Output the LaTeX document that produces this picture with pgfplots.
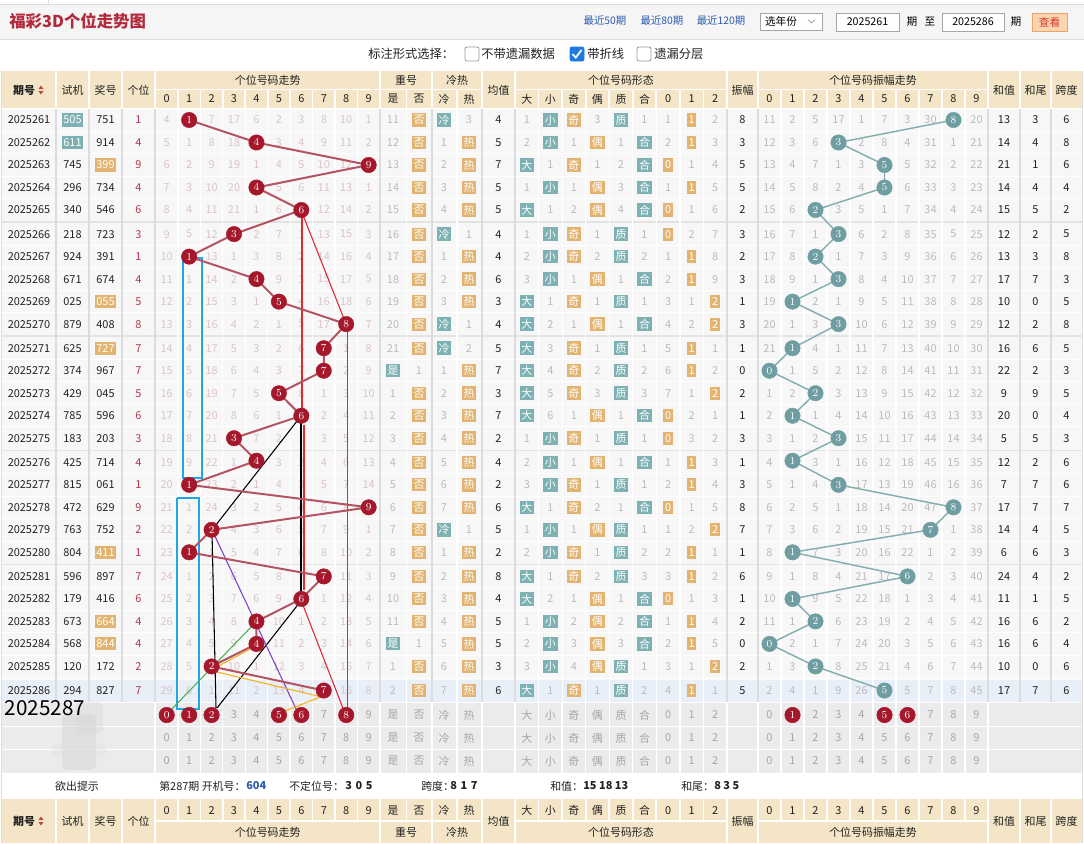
\documentclass[border=0pt]{standalone}
\usepackage{pgfplots}
\pgfplotsset{compat=1.18}
\usepackage{pgfplotstable}
\usepackage{fontspec}
\setmainfont{Noto Sans CJK SC}

\definecolor{hdr}{HTML}{F3E5C5}
\definecolor{cellbg}{HTML}{F7F7F7}
\definecolor{sepG}{HTML}{DCDCDC}
\definecolor{sepL}{HTML}{E3E3E3}
\definecolor{redc}{HTML}{A5172B}
\definecolor{redl}{HTML}{B35462}
\definecolor{tagT}{HTML}{7DB1B4}
\definecolor{tagO}{HTML}{E2B46F}
\definecolor{ampc}{HTML}{6F9EA2}
\definecolor{ampl}{HTML}{86AEB1}
\definecolor{omR}{HTML}{DBC4C7}
\definecolor{omG}{HTML}{BBBBBB}
\definecolor{digR}{HTML}{B03A4A}
\definecolor{titleR}{HTML}{B22A3C}
\definecolor{linkB}{HTML}{2D5BAE}
\definecolor{hl}{HTML}{E8EFF8}
\definecolor{gbg}{HTML}{EBEBEB}
\definecolor{txtG}{HTML}{A6A6A6}
\definecolor{txtK}{HTML}{222222}
\definecolor{boxB}{HTML}{1F7AE0}
\definecolor{topbg}{HTML}{F5F5F5}
\definecolor{annB}{HTML}{1FA6E6}
\definecolor{arrR}{HTML}{BE4646}
\definecolor{btnF}{HTML}{FBD5B0}
\definecolor{btnD}{HTML}{E8A46A}
\definecolor{btnT}{HTML}{D8332A}
\definecolor{annR}{HTML}{E0282E}
\definecolor{annP}{HTML}{7B3FD0}
\definecolor{annG}{HTML}{4CAF50}
\definecolor{annY}{HTML}{F0B020}

\newcommand\tT[1]{{\setlength\fboxsep{1.3pt}\colorbox{tagT}{\textcolor{white}{\vphantom{国}#1}}}}
\newcommand\tO[1]{{\setlength\fboxsep{1.3pt}\colorbox{tagO}{\textcolor{white}{\vphantom{国}#1}}}}
\newcommand\bk[1]{\textcolor{txtK}{#1}}

\pgfplotstableread{
i d a
0 1 8
1 4 3
2 9 5
3 4 5
4 6 2
5 3 3
6 1 2
7 4 3
8 5 1
9 8 3
10 7 1
11 7 0
12 5 2
13 6 1
14 3 3
15 4 1
16 1 3
17 9 8
18 2 7
19 1 1
20 7 6
21 6 1
22 4 2
23 4 0
24 2 2
25 7 5
}\hits

\begin{document}
\begin{tikzpicture}
\useasboundingbox (0,0) rectangle (813pt,-632.25pt);
\begin{scope}[x=0.75pt,y=-0.75pt,every node/.style={inner sep=0pt,anchor=center},font=\fontsize{8.2}{10}\selectfont]
% ---------- top bar
\fill[topbg] (0,4) rectangle (1084,39);
\draw[sepG,line width=0.6pt] (0,4)--(1084,4) (0,39)--(1084,39);
\draw[sepG,line width=0.6pt] (48,0)--(48,4);
\node[anchor=west,text=titleR,font=\fontsize{12.3}{14}\bfseries\selectfont] at (9,21) {福彩3D个位走势图};
\node[text=linkB,font=\fontsize{7.8}{9}\selectfont] at (605,21) {最近50期};
\node[text=linkB,font=\fontsize{7.8}{9}\selectfont] at (662,21) {最近80期};
\node[text=linkB,font=\fontsize{7.8}{9}\selectfont] at (721,21) {最近120期};
\filldraw[fill=white,draw=gray!70,line width=0.6pt] (760,13) rectangle (822,30);
\node[font=\fontsize{8}{9}\selectfont] at (781,21.5) {选年份};
\draw[gray,line width=0.5pt] (808,19.5)--(811.5,23)--(815,19.5);
\filldraw[fill=white,draw=gray!70,line width=0.6pt] (836,13) rectangle (899,31);
\node[font=\fontsize{8}{9}\selectfont] at (867.5,22) {2025261};
\node[font=\fontsize{8}{9}\selectfont] at (912,21.5) {期};
\node[font=\fontsize{8}{9}\selectfont] at (930,21.5) {至};
\filldraw[fill=white,draw=gray!70,line width=0.6pt] (942,13) rectangle (1004,31);
\node[font=\fontsize{8}{9}\selectfont] at (973,22) {2025286};
\node[font=\fontsize{8}{9}\selectfont] at (1016,21.5) {期};
\filldraw[fill=btnF,draw=btnD,line width=0.6pt] (1032,13) rectangle (1067,31);
\node[text=btnT,font=\fontsize{8}{9}\selectfont] at (1049.5,22) {查看};
% ---------- option line
\node[anchor=west,text=txtK,font=\fontsize{9.2}{11}\selectfont] at (368,54) {标注形式选择：};
\filldraw[fill=white,draw=gray!80,line width=0.6pt,rounded corners=1.5pt] (465,47) rectangle (479,61);
\node[anchor=west,text=txtK,font=\fontsize{9.2}{11}\selectfont] at (481,54) {不带遗漏数据};
\filldraw[fill=boxB,draw=boxB,line width=0.6pt,rounded corners=1.5pt] (570,47) rectangle (584,61);
\draw[white,line width=1.3pt] (572.5,54)--(575.8,57.6)--(581.5,50);
\node[anchor=west,text=txtK,font=\fontsize{9.2}{11}\selectfont] at (587,54) {带折线};
\filldraw[fill=white,draw=gray!80,line width=0.6pt,rounded corners=1.5pt] (637,47) rectangle (651,61);
\node[anchor=west,text=txtK,font=\fontsize{9.2}{11}\selectfont] at (654,54) {遗漏分层};
% ---------- header (top)
\fill[hdr] (2,71) rectangle (1082,108);
\foreach \x in {155.5,177.9,200.4,222.8,245.3,267.7,290.1,312.6,335,357.5,406.5,457,538.6,562.1,585.7,609.2,632.8,656.3,679.9,703.4,781,804,827,850,873,896,919,942,965}
  \draw[white,line width=1.3pt] (\x,89.5)--(\x,108);
\foreach \x in {56,89,122,155,380,432,482,515,727,758,988,1020,1051}
  \draw[white,line width=1.5pt] (\x,71)--(\x,108);
\draw[white,line width=1.3pt] (155,89.5)--(482,89.5) (515,89.5)--(727,89.5) (758,89.5)--(988,89.5);
\begin{scope}[text=txtK]
\node[font=\fontsize{8.2}{10}\bfseries\selectfont] at (24,90) {期号};
\fill[arrR] (38.5,89)--(43.5,89)--(41,85.5)--cycle;
\fill[arrR] (38.5,91)--(43.5,91)--(41,94.5)--cycle;
\node at (72.5,90) {试机};
\node at (105.5,90) {奖号};
\node at (138.5,90) {个位};
\node at (267.7,80.5) {个位号码走势};
\node at (406,80.5) {重号};
\node at (457,80.5) {冷热};
\node at (498.5,90) {均值};
\node at (621,80.5) {个位号码形态};
\node at (742.5,90) {振幅};
\node at (873,80.5) {个位号码振幅走势};
\node at (1004,90) {和值};
\node at (1035.5,90) {和尾};
\node at (1066.5,90) {跨度};
\foreach \c in {0,...,9} {\node at ({166.7+22.44*\c},99) {\c}; \node at ({769.5+23*\c},99) {\c};}
\foreach \t [count=\c from 0] in {是,否,冷,热} {\pgfmathsetmacro\X{{393,419,444,469}[\c]}\node at (\X,99) {\t};}
\foreach \t [count=\c from 0] in {大,小,奇,偶,质,合,0,1,2} {\node at ({526.8+23.55*\c},99) {\t};}
\end{scope}
% ---------- data area
\fill[cellbg] (2,109) rectangle (1082,702);
\fill[hl] (2,679.5) rectangle (1082,702);
\foreach \i in {0,...,24} {
  \pgfmathsetmacro\Ya{120+22.5*\i+1.6*floor(\i/5)}
  \pgfmathsetmacro\Yb{120+22.5*(\i+1)+1.6*floor((\i+1)/5)}
  \pgfmathsetmacro\Ym{(\Ya+\Yb)/2}
  \draw[white,line width=0.8pt] (2,\Ym)--(1082,\Ym);
}
\foreach \Ym in {221.8,336.2,450.3,564.4} \draw[sepL,line width=1.1pt] (2,\Ym)--(1082,\Ym);
\foreach \x in {177.9,200.4,222.8,245.3,267.7,290.1,312.6,335,357.5,406.5,457,538.6,562.1,585.7,609.2,632.8,656.3,679.9,703.4,781,804,827,850,873,896,919,942,965}
  \draw[white,line width=0.9pt] (\x,109)--(\x,702);
\foreach \x in {56,89,122,155,380,432,482,515,727,758,988,1020,1051}
  \draw[sepG,line width=0.9pt] (\x,109)--(\x,702);
\draw[sepG,line width=0.6pt] (1.5,71)--(1.5,843) (1082.5,71)--(1082.5,843);
% rows
\foreach \i/\q/\s/\j/\g/\om/\md/\am/\hz/\hw/\kd in {
0/2025261/\tT{505}/751/1/{4,1,7,17,6,2,3,8,10,1}/{11,\tO{否},\tT{冷},3,\bk{4},1,\tT{小},\tO{奇},3,\tT{质},1,1,\tO{1},2,\bk{8}}/{11,2,5,17,1,7,3,30,8,20}/13/3/6,
1/2025262/\tT{611}/914/4/{5,1,8,18,4,3,4,9,11,2}/{12,\tO{否},1,\tO{热},\bk{5},2,\tT{小},1,\tO{偶},1,\tT{合},2,\tO{1},3,\bk{3}}/{12,3,6,3,2,8,4,31,1,21}/14/4/8,
2/2025263/745/\tO{399}/9/{6,2,9,19,1,4,5,10,12,9}/{13,\tO{否},2,\tO{热},\bk{7},\tT{大},1,\tO{奇},1,2,\tT{合},\tO{0},1,4,\bk{5}}/{13,4,7,1,3,5,5,32,2,22}/21/1/6,
3/2025264/296/734/4/{7,3,10,20,4,5,6,11,13,1}/{14,\tO{否},3,\tO{热},\bk{5},1,\tT{小},1,\tO{偶},3,\tT{合},1,\tO{1},5,\bk{5}}/{14,5,8,2,4,5,6,33,3,23}/14/4/4,
4/2025265/340/546/6/{8,4,11,21,1,6,6,12,14,2}/{15,\tO{否},4,\tO{热},\bk{5},\tT{大},1,2,\tO{偶},4,\tT{合},\tO{0},1,6,\bk{2}}/{15,6,2,3,5,1,7,34,4,24}/15/5/2,
5/2025266/218/723/3/{9,5,12,3,2,7,1,13,15,3}/{16,\tO{否},\tT{冷},1,\bk{4},1,\tT{小},\tO{奇},1,\tT{质},1,\tO{0},2,7,\bk{3}}/{16,7,1,3,6,2,8,35,5,25}/12/2/5,
6/2025267/924/391/1/{10,1,13,1,3,8,2,14,16,4}/{17,\tO{否},1,\tO{热},\bk{4},2,\tT{小},\tO{奇},2,\tT{质},2,1,\tO{1},8,\bk{2}}/{17,8,2,1,7,3,9,36,6,26}/13/3/8,
7/2025268/671/674/4/{11,1,14,2,4,9,3,15,17,5}/{18,\tO{否},2,\tO{热},\bk{6},3,\tT{小},1,\tO{偶},1,\tT{合},2,\tO{1},9,\bk{3}}/{18,9,1,3,8,4,10,37,7,27}/17/7/3,
8/2025269/025/\tO{055}/5/{12,2,15,3,1,5,4,16,18,6}/{19,\tO{否},3,\tO{热},\bk{3},\tT{大},1,\tO{奇},1,\tT{质},1,3,1,\tO{2},\bk{1}}/{19,1,2,1,9,5,11,38,8,28}/10/0/5,
9/2025270/879/408/8/{13,3,16,4,2,1,5,17,8,7}/{20,\tO{否},\tT{冷},1,\bk{4},\tT{大},2,1,\tO{偶},1,\tT{合},4,2,\tO{2},\bk{3}}/{20,1,3,3,10,6,12,39,9,29}/12/2/8,
10/2025271/625/\tO{727}/7/{14,4,17,5,3,2,6,7,1,8}/{21,\tO{否},\tT{冷},2,\bk{5},\tT{大},3,\tO{奇},1,\tT{质},1,5,\tO{1},1,\bk{1}}/{21,1,4,1,11,7,13,40,10,30}/16/6/5,
11/2025272/374/967/7/{15,5,18,6,4,3,7,7,2,9}/{\tT{是},1,1,\tO{热},\bk{7},\tT{大},4,\tO{奇},2,\tT{质},2,6,\tO{1},2,\bk{0}}/{0,1,5,2,12,8,14,41,11,31}/22/2/3,
12/2025273/429/045/5/{16,6,19,7,5,5,8,1,3,10}/{1,\tO{否},2,\tO{热},\bk{3},\tT{大},5,\tO{奇},3,\tT{质},3,7,1,\tO{2},\bk{2}}/{1,2,2,3,13,9,15,42,12,32}/9/9/5,
13/2025274/785/596/6/{17,7,20,8,6,1,6,2,4,11}/{2,\tO{否},3,\tO{热},\bk{7},\tT{大},6,1,\tO{偶},1,\tT{合},\tO{0},2,1,\bk{1}}/{2,1,1,4,14,10,16,43,13,33}/20/0/4,
14/2025275/183/203/3/{18,8,21,3,7,2,1,3,5,12}/{3,\tO{否},4,\tO{热},\bk{2},1,\tT{小},\tO{奇},1,\tT{质},1,\tO{0},3,2,\bk{3}}/{3,1,2,3,15,11,17,44,14,34}/5/5/3,
15/2025276/425/714/4/{19,9,22,1,4,3,2,4,6,13}/{4,\tO{否},5,\tO{热},\bk{4},2,\tT{小},1,\tO{偶},1,\tT{合},1,\tO{1},3,\bk{1}}/{4,1,3,1,16,12,18,45,15,35}/12/2/6,
16/2025277/815/061/1/{20,1,23,2,1,4,3,5,7,14}/{5,\tO{否},6,\tO{热},\bk{2},3,\tT{小},\tO{奇},1,\tT{质},1,2,\tO{1},4,\bk{3}}/{5,1,4,3,17,13,19,46,16,36}/7/7/6,
17/2025278/472/629/9/{21,1,24,3,2,5,4,6,8,9}/{6,\tO{否},7,\tO{热},\bk{6},\tT{大},1,\tO{奇},2,1,\tT{合},\tO{0},1,5,\bk{8}}/{6,2,5,1,18,14,20,47,8,37}/17/7/7,
18/2025279/763/752/2/{22,2,2,4,3,6,5,7,9,1}/{7,\tO{否},\tT{冷},1,\bk{5},1,\tT{小},1,\tO{偶},\tT{质},1,1,2,\tO{2},\bk{7}}/{7,3,6,2,19,15,21,7,1,38}/14/4/5,
19/2025280/804/\tO{411}/1/{23,1,1,5,4,7,6,8,10,2}/{8,\tO{否},1,\tO{热},\bk{2},2,\tT{小},\tO{奇},1,\tT{质},2,2,\tO{1},1,\bk{1}}/{8,1,7,3,20,16,22,1,2,39}/6/6/3,
20/2025281/596/897/7/{24,1,2,6,5,8,7,7,11,3}/{9,\tO{否},2,\tO{热},\bk{8},\tT{大},1,\tO{奇},2,\tT{质},3,3,\tO{1},2,\bk{6}}/{9,1,8,4,21,17,6,2,3,40}/24/4/2,
21/2025282/179/416/6/{25,2,3,7,6,9,6,1,12,4}/{10,\tO{否},3,\tO{热},\bk{4},\tT{大},2,1,\tO{偶},1,\tT{合},\tO{0},1,3,\bk{1}}/{10,1,9,5,22,18,1,3,4,41}/11/1/5,
22/2025283/673/\tO{664}/4/{26,3,4,8,4,10,1,2,13,5}/{11,\tO{否},4,\tO{热},\bk{5},1,\tT{小},2,\tO{偶},2,\tT{合},1,\tO{1},4,\bk{2}}/{11,1,2,6,23,19,2,4,5,42}/16/6/2,
23/2025284/568/\tO{844}/4/{27,4,5,9,4,11,2,3,14,6}/{\tT{是},1,5,\tO{热},\bk{5},2,\tT{小},3,\tO{偶},3,\tT{合},2,\tO{1},5,\bk{0}}/{0,2,1,7,24,20,3,5,6,43}/16/6/4,
24/2025285/120/172/2/{28,5,2,10,1,12,3,4,15,7}/{1,\tO{否},6,\tO{热},\bk{3},3,\tT{小},4,\tO{偶},\tT{质},1,3,1,\tO{2},\bk{2}}/{1,3,2,8,25,21,4,6,7,44}/10/0/6,
25/2025286/294/827/7/{29,6,1,11,2,13,4,7,16,8}/{2,\tO{否},7,\tO{热},\bk{6},\tT{大},1,\tO{奇},1,\tT{质},2,4,\tO{1},1,\bk{5}}/{2,4,1,9,26,5,5,7,8,45}/17/7/6}{
  \pgfmathsetmacro\Y{120+22.5*\i+1.6*floor(\i/5)}
  \node[text=txtK] at (29,\Y) {\q};
  \node[text=txtK] at (72.5,\Y) {\s};
  \node[text=txtK] at (105.5,\Y) {\j};
  \node[text=digR] at (138.5,\Y) {\g};
  \foreach \v [count=\c from 0] in \om {\node[text=omR] at ({166.7+22.44*\c},\Y) {\v};}
  \foreach \v [count=\c from 0] in \md {\pgfmathsetmacro\X{{393,419,444,469,498.5,526.8,550.3,573.9,597.4,621,644.5,668.1,691.6,715.2,742.5}[\c]}\node[text=omG] at (\X,\Y) {\v};}
  \foreach \v [count=\c from 0] in \am {\node[text=omG] at ({769.5+23*\c},\Y) {\v};}
  \node[text=txtK] at (1004,\Y) {\hz};
  \node[text=txtK] at (1035.5,\Y) {\hw};
  \node[text=txtK] at (1066.5,\Y) {\kd};
}
% ---------- next-issue block
\fill[gbg] (2,703) rectangle (1082,772.5);
\draw[white,line width=0.9pt] (2,726.5)--(1082,726.5) (2,749.5)--(1082,749.5);
\foreach \x in {155,177.9,200.4,222.8,245.3,267.7,290.1,312.6,335,357.5,380,406.5,432,457,482,515,538.6,562.1,585.7,609.2,632.8,656.3,679.9,703.4,727,758,781,804,827,850,873,896,919,942,965,988}
  \draw[white,line width=1pt] (\x,703)--(\x,772.5);
\foreach \Y in {715,738,761} {
  \foreach \c in {0,...,9} {\node[text=txtG] at ({166.7+22.44*\c},\Y) {\c}; \node[text=txtG] at ({769.5+23*\c},\Y) {\c};}
  \foreach \t [count=\c from 0] in {是,否,冷,热} {\pgfmathsetmacro\X{{393,419,444,469}[\c]}\node[text=txtG] at (\X,\Y) {\t};}
  \foreach \t [count=\c from 0] in {大,小,奇,偶,质,合,0,1,2} {\node[text=txtG] at ({526.8+23.55*\c},\Y) {\t};}
}
\fill[gray!35,opacity=0.45,rounded corners=4pt] (62,714) rectangle (96,770);
\fill[gray!30,opacity=0.4,rounded corners=4pt] (76,702) rectangle (103,734);
\fill[gray!25,opacity=0.4,rounded corners=4pt] (52,744) rectangle (106,756);
\node[text=black,font=\fontsize{15.5}{17}\selectfont] at (45,708.5) {2025287};
% ---------- hint line
\begin{scope}[text=txtK]
\node at (77,786) {欲出提示};
\node[anchor=west] at (159,786) {第287期 开机号：};
\node[anchor=west,text=linkB,font=\fontsize{8.2}{10}\bfseries\selectfont] at (246,786) {604};
\node[anchor=west] at (289,786) {不定位号：};
\node[anchor=west,font=\fontsize{8.2}{10}\bfseries\selectfont] at (345,786) {3\,\,0\,\,5};
\node[anchor=west] at (421,786) {跨度：};
\node[anchor=west,font=\fontsize{8.2}{10}\bfseries\selectfont] at (450,786) {8\,\,1\,\,7};
\node[anchor=west] at (550,786) {和值：};
\node[anchor=west,font=\fontsize{8.2}{10}\bfseries\selectfont] at (583,786) {15 18 13};
\node[anchor=west] at (681,786) {和尾：};
\node[anchor=west,font=\fontsize{8.2}{10}\bfseries\selectfont] at (714,786) {8 3 5};
\end{scope}
% ---------- bottom header
\fill[hdr] (2,799) rectangle (1082,843);
\foreach \x in {177.9,200.4,222.8,245.3,267.7,290.1,312.6,335,357.5,406.5,457,538.6,562.1,585.7,609.2,632.8,656.3,679.9,703.4,781,804,827,850,873,896,919,942,965}
  \draw[white,line width=1.3pt] (\x,799)--(\x,821);
\foreach \x in {56,89,122,155,380,432,482,515,727,758,988,1020,1051}
  \draw[white,line width=1.5pt] (\x,799)--(\x,843);
\draw[white,line width=1.3pt] (155,821)--(482,821) (515,821)--(727,821) (758,821)--(988,821);
\begin{scope}[text=txtK]
\node[font=\fontsize{8.2}{10}\bfseries\selectfont] at (24,821) {期号};
\fill[arrR] (38.5,820)--(43.5,820)--(41,816.5)--cycle;
\fill[arrR] (38.5,822)--(43.5,822)--(41,825.5)--cycle;
\node at (72.5,821) {试机};
\node at (105.5,821) {奖号};
\node at (138.5,821) {个位};
\node at (267.7,832) {个位号码走势};
\node at (406,832) {重号};
\node at (457,832) {冷热};
\node at (498.5,821) {均值};
\node at (621,832) {个位号码形态};
\node at (742.5,821) {振幅};
\node at (873,832) {个位号码振幅走势};
\node at (1004,821) {和值};
\node at (1035.5,821) {和尾};
\node at (1066.5,821) {跨度};
\foreach \c in {0,...,9} {\node at ({166.7+22.44*\c},810.5) {\c}; \node at ({769.5+23*\c},810.5) {\c};}
\foreach \t [count=\c from 0] in {是,否,冷,热} {\pgfmathsetmacro\X{{393,419,444,469}[\c]}\node at (\X,810.5) {\t};}
\foreach \t [count=\c from 0] in {大,小,奇,偶,质,合,0,1,2} {\node at ({526.8+23.55*\c},810.5) {\t};}
\end{scope}
\end{scope}

\begin{axis}[at={(0pt,0pt)},anchor=north west,width=813pt,height=632.25pt,scale only axis,
  xmin=0,xmax=1084,ymin=0,ymax=843,y dir=reverse,hide axis,clip=false]
% hand-drawn annotation lines
\addplot[annB,line width=1.7pt,mark=none] coordinates {(183,258) (202,258) (202,478) (183,478) (183,258)};
\addplot[annB,line width=1.7pt,mark=none] coordinates {(177,498) (199,498) (199,709) (177,709) (177,498)};
\addplot[annR,line width=0.8pt,mark=none] coordinates {(302,210) (302,416)};
\addplot[annR,line width=0.8pt,mark=none] coordinates {(301,210) (346,324)};
\addplot[annR,line width=0.8pt,mark=none] coordinates {(347.5,327) (347.5,713)};
\addplot[annR,line width=0.8pt,mark=none] coordinates {(304,425) (304,590)};
\addplot[annR,line width=0.8pt,mark=none] coordinates {(301,600) (346,716)};
\addplot[black,line width=0.8pt,mark=none] coordinates {(301,416) (212,530)};
\addplot[black,line width=0.8pt,mark=none] coordinates {(301,416) (301,600)};
\addplot[black,line width=0.8pt,mark=none] coordinates {(212,532) (216,708)};
\addplot[black,line width=0.8pt,mark=none] coordinates {(300,602) (217,708)};
\addplot[annP,line width=0.8pt,mark=none] coordinates {(213,532) (298,713)};
\addplot[annG,line width=0.8pt,mark=none] coordinates {(254,624) (167,714)};
\addplot[annY,line width=0.8pt,mark=none] coordinates {(213,669) (254,647)};
\addplot[annY,line width=0.8pt,mark=none] coordinates {(213,671) (322,697)};
\addplot[annY,line width=0.8pt,mark=none] coordinates {(325,695) (280,713)};
% trend of the units digit
\addplot[redl,line width=1.5pt,mark=*,mark size=5.8pt,mark options={fill=redc,draw=redc,line width=0.3pt},
  nodes near coords,point meta=\thisrow{d},
  every node near coord/.append style={anchor=center,text=white,inner sep=0pt,font=\fontsize{7.6}{8}\bfseries\selectfont}]
  table[x expr={166.7+22.44*\thisrow{d}},y expr={120+22.5*\thisrow{i}+1.6*floor(\thisrow{i}/5)}] {\hits};
% amplitude trend
\addplot[ampl,line width=1.1pt,mark=*,mark size=5.8pt,mark options={fill=ampc,draw=ampc,line width=0.3pt},
  nodes near coords,point meta=\thisrow{a},
  every node near coord/.append style={anchor=center,text=white,inner sep=0pt,font=\fontsize{7.6}{8}\bfseries\selectfont}]
  table[x expr={769.5+23*\thisrow{a}},y expr={120+22.5*\thisrow{i}+1.6*floor(\thisrow{i}/5)}] {\hits};
% marked digits of the next issue
\addplot[only marks,mark=*,mark size=5.8pt,mark options={fill=redc,draw=redc},
  nodes near coords,point meta=\thisrow{d},
  every node near coord/.append style={anchor=center,text=white,inner sep=0pt,font=\fontsize{7.6}{8}\bfseries\selectfont}]
  table[row sep=\\,x expr={166.7+22.44*\thisrow{d}},y expr=715] {d\\0\\1\\2\\5\\6\\8\\};
\addplot[only marks,mark=*,mark size=5.8pt,mark options={fill=redc,draw=redc},
  nodes near coords,point meta=\thisrow{d},
  every node near coord/.append style={anchor=center,text=white,inner sep=0pt,font=\fontsize{7.6}{8}\bfseries\selectfont}]
  table[row sep=\\,x expr={769.5+23*\thisrow{d}},y expr=715] {d\\1\\5\\6\\};
\end{axis}
\end{tikzpicture}
\end{document}
